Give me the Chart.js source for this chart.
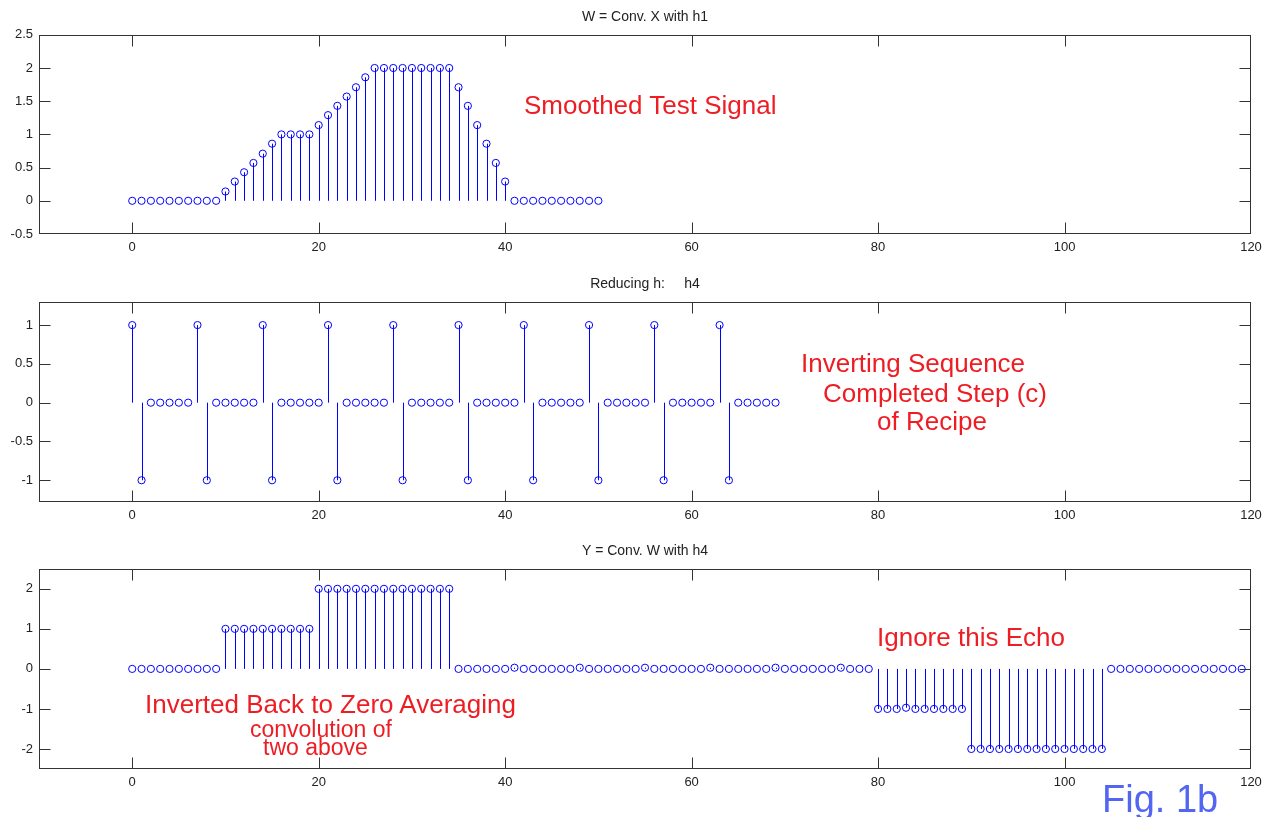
<!DOCTYPE html>
<html>
<head>
<meta charset="utf-8">
<title>Fig. 1b</title>
<script src="https://cdn.jsdelivr.net/npm/chart.js@4.4.0/dist/chart.umd.min.js"></script>
<style>
  body { margin: 0; background: #fff; width: 1272px; height: 817px; position: relative; overflow: hidden;
         font-family: "Liberation Sans", Arial, sans-serif; }
  canvas { position: absolute; left: 0; }
  .note { position: absolute; color: #ee1d23; white-space: pre; line-height: 1; }
</style>
</head>
<body>
<canvas id="c1" width="1272" height="268" style="top:0px"></canvas>
<canvas id="c2" width="1272" height="269" style="top:267px"></canvas>
<canvas id="c3" width="1272" height="269" style="top:534px"></canvas>

<div class="note" style="left:524px; top:92px; font-size:26px">Smoothed Test Signal</div>
<div class="note" style="left:801px; top:350px; font-size:26px">Inverting Sequence</div>
<div class="note" style="left:823px; top:380px; font-size:26px">Completed Step (c)</div>
<div class="note" style="left:877px; top:408px; font-size:26px">of Recipe</div>
<div class="note" style="left:877px; top:624px; font-size:26px">Ignore this Echo</div>
<div class="note" style="left:145px; top:691px; font-size:26px">Inverted Back to Zero Averaging</div>
<div class="note" style="left:250px; top:718px; font-size:23px">convolution of</div>
<div class="note" style="left:263px; top:736px; font-size:23px">two above</div>
<div class="note" style="left:1102px; top:780px; font-size:38px; color:#5266f2">Fig. 1b</div>

<script>
// W = smoothed test signal, n = 0..50
const wSmoothed = [
  0, 0, 0, 0, 0, 0, 0, 0, 0, 0,
  0.14, 0.29, 0.43, 0.57, 0.71, 0.86,
  1, 1, 1, 1,
  1.14, 1.29, 1.43, 1.57, 1.71, 1.86,
  2, 2, 2, 2, 2, 2, 2, 2, 2,
  1.71, 1.43, 1.14, 0.86, 0.57, 0.29,
  0, 0, 0, 0, 0, 0, 0, 0, 0, 0
];

// h4 = reducing (inverting) sequence, n = 0..69
const h4Reducing = [
  1, -1, 0, 0, 0, 0, 0,
  1, -1, 0, 0, 0, 0, 0,
  1, -1, 0, 0, 0, 0, 0,
  1, -1, 0, 0, 0, 0, 0,
  1, -1, 0, 0, 0, 0, 0,
  1, -1, 0, 0, 0, 0, 0,
  1, -1, 0, 0, 0, 0, 0,
  1, -1, 0, 0, 0, 0, 0,
  1, -1, 0, 0, 0, 0, 0,
  1, -1, 0, 0, 0, 0, 0
];

// Y = conv(W, h4), n = 0..119
const yConv = [
  0, 0, 0, 0, 0, 0, 0, 0, 0, 0,
  1, 1, 1, 1, 1, 1, 1, 1, 1, 1,
  2, 2, 2, 2, 2, 2, 2, 2, 2, 2, 2, 2, 2, 2, 2,
  0, 0, 0, 0, 0, 0, 0.03, 0, 0, 0, 0, 0, 0, 0.03, 0, 0,
  0, 0, 0, 0, 0.03, 0, 0, 0, 0, 0, 0, 0.03, 0, 0, 0,
  0, 0, 0, 0.03, 0, 0, 0, 0, 0, 0, 0.03, 0, 0, 0,
  -1, -1, -1, -0.97, -1, -1, -1, -1, -1, -1,
  -2, -2, -2, -2, -2, -2, -2, -2, -2, -2, -2, -2, -2, -2, -2,
  0, 0, 0, 0, 0, 0, 0, 0, 0, 0, 0, 0, 0, 0, 0
];

const xTicks = [0, 20, 40, 60, 80, 100, 120];
const yTicksTop = [-0.5, 0, 0.5, 1, 1.5, 2, 2.5];
const yTicksMid = [-1, -0.5, 0, 0.5, 1];
const yTicksBot = [-2, -1, 0, 1, 2];

const BLUE = '#0000ff';
const AXIS = '#333333';
const TICK_LEN = 11;

Chart.defaults.font.family = '"Liberation Sans", Arial, sans-serif';

// stems: a 1px line from the zero level up/down to each marker
const stems = {
  id: 'stems',
  beforeDatasetsDraw(chart) {
    const { ctx, scales } = chart;
    const base = scales.y.getPixelForValue(0);
    ctx.save();
    ctx.strokeStyle = BLUE;
    ctx.lineWidth = 1;
    ctx.beginPath();
    chart.getDatasetMeta(0).data.forEach(pt => {
      if (Math.abs(pt.y - base) < 1) return;
      const px = Math.round(pt.x) + 0.5;
      ctx.moveTo(px, base);
      ctx.lineTo(px, pt.y);
    });
    ctx.stroke();
    ctx.restore();
  }
};

// matlab style box with inward ticks on all four sides
const boxTicks = {
  id: 'boxTicks',
  afterDatasetsDraw(chart) {
    const { ctx, chartArea: a, scales } = chart;
    const L = Math.round(a.left) + 0.5, R = Math.round(a.right) - 0.5;
    const T = Math.round(a.top) + 0.5, B = Math.round(a.bottom) - 0.5;
    const clamp = (v, lo, hi) => Math.min(hi, Math.max(lo, v));
    ctx.save();
    ctx.strokeStyle = AXIS;
    ctx.lineWidth = 1;
    ctx.beginPath();
    scales.x.ticks.forEach(t => {
      const px = clamp(Math.round(scales.x.getPixelForValue(t.value)) + 0.5, L, R);
      ctx.moveTo(px, B); ctx.lineTo(px, B - TICK_LEN);
      ctx.moveTo(px, T); ctx.lineTo(px, T + TICK_LEN);
    });
    scales.y.ticks.forEach(t => {
      const py = clamp(Math.round(scales.y.getPixelForValue(t.value)) + 0.5, T, B);
      ctx.moveTo(L, py); ctx.lineTo(L + TICK_LEN, py);
      ctx.moveTo(R, py); ctx.lineTo(R - TICK_LEN, py);
    });
    ctx.stroke();
    ctx.strokeRect(L, T, R - L, B - T);
    ctx.restore();
  }
};

function makeStem(id, values, yMin, yMax, yTicks, title) {
  const pts = values.map((v, i) => ({ x: i, y: v }));
  return new Chart(document.getElementById(id), {
    type: 'scatter',
    data: {
      datasets: [
        { data: pts, pointStyle: 'circle', pointRadius: 3.6, pointBorderWidth: 1,
          pointBorderColor: BLUE, pointBackgroundColor: 'rgba(0,0,0,0)' }
      ]
    },
    options: {
      responsive: false,
      animation: false,
      events: [],
      layout: { padding: { left: 0, right: 21, top: 0, bottom: 0 } },
      scales: {
        x: {
          type: 'linear',
          min: -10,
          max: 120,
          afterBuildTicks: s => { s.ticks = xTicks.map(v => ({ value: v })); },
          afterFit: s => { s.height = 34; },
          grid: { display: false, drawTicks: false },
          border: { display: false },
          ticks: { padding: 6, color: '#222', font: { size: 13 }, callback: v => String(v) }
        },
        y: {
          min: yMin,
          max: yMax,
          afterBuildTicks: s => { s.ticks = yTicks.map(v => ({ value: v })); },
          afterFit: s => { s.width = 39; },
          grid: { display: false, drawTicks: false },
          border: { display: false },
          ticks: { padding: 6, color: '#222', font: { size: 13 }, callback: v => String(v) }
        }
      },
      plugins: {
        legend: { display: false },
        tooltip: { enabled: false },
        title: {
          display: true,
          text: title,
          fullSize: false,
          color: '#222',
          font: { size: 14, weight: 'normal' },
          padding: { top: 8.6, bottom: 9.4 }
        }
      }
    },
    plugins: [stems, boxTicks]
  });
}

makeStem('c1', wSmoothed, -0.5, 2.5, yTicksTop, 'W = Conv. X with h1');
makeStem('c2', h4Reducing, -1.28, 1.3, yTicksMid, 'Reducing h:     h4');
makeStem('c3', yConv, -2.5, 2.5, yTicksBot, 'Y = Conv. W with h4');
</script>
</body>
</html>
